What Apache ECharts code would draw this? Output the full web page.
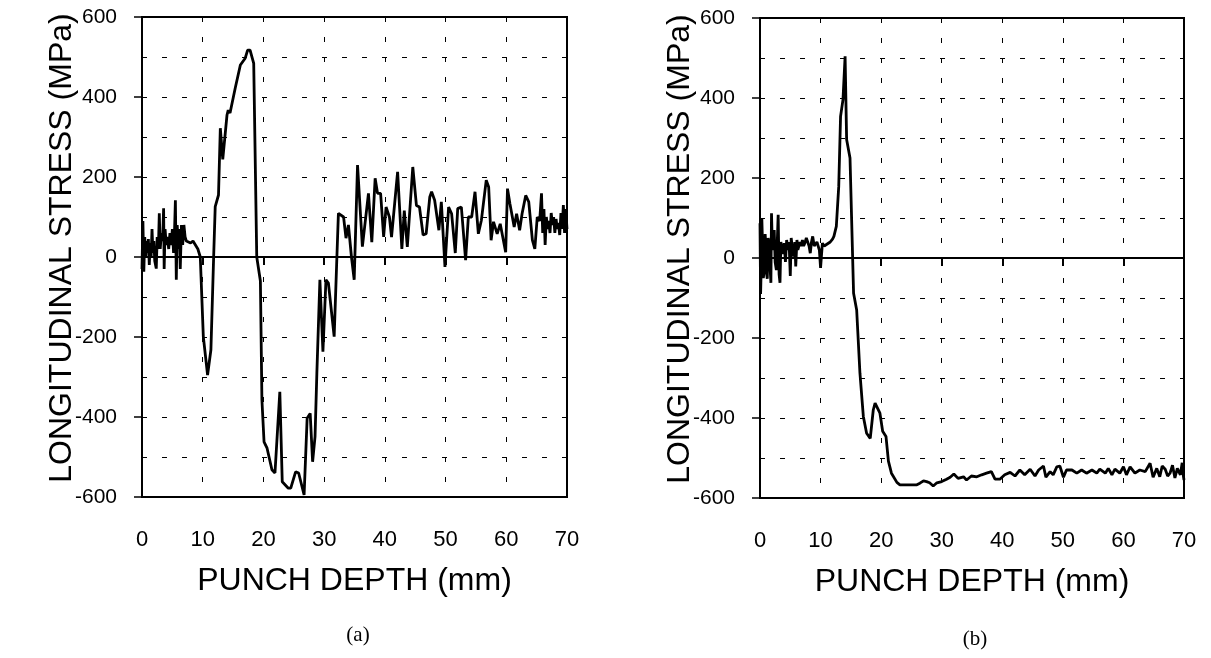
<!DOCTYPE html>
<html>
<head>
<meta charset="utf-8">
<title>Longitudinal stress vs punch depth</title>
<script src="https://cdn.jsdelivr.net/npm/echarts@6/dist/echarts.min.js"></script>
<style>
  html, body { margin: 0; padding: 0; background: #fff; }
  #chart { width: 1211px; height: 658px; }
</style>
</head>
<body>
<div id="chart"></div>
<script>
// ---- data ----
const xTicks = [0, 10, 20, 30, 40, 50, 60, 70];
const yTicks = [-600, -400, -200, 0, 200, 400, 600];

// (a) punch depth (mm) / longitudinal stress (MPa)
const depthA = [
  0, 0.15, 0.3, 0.45, 0.6, 0.75, 0.9, 1.05, 1.2, 1.35, 1.5, 1.65, 1.8, 1.95, 2.1, 2.35, 2.5, 2.7, 2.85, 3.0,
  3.2, 3.4, 3.56, 3.65, 3.8, 4.0, 4.2, 4.4, 4.6, 4.8, 5.0, 5.2, 5.35, 5.5, 5.65, 5.8, 6.0, 6.15, 6.3, 6.5,
  6.7, 6.9, 7.1, 7.3, 7.6, 8.0, 8.4, 8.8, 9.2, 9.6, 10.1, 10.8, 11.35, 11.8, 12.06, 12.6, 12.9, 13.3, 14.0, 14.2,
  14.5, 15.35, 16.2, 17.0, 17.4, 17.8, 18.4, 18.9, 19.5, 19.75, 20.1, 20.6, 21.4, 21.9, 22.1, 22.7, 23.1, 24.1, 24.5, 25.3,
  25.8, 26.7, 27.2, 27.7, 28.1, 28.5, 28.8, 29.3, 29.8, 30.3, 30.7, 31.65, 32.1, 32.35, 33.2, 33.6, 34.0, 34.5, 34.95, 35.5,
  36.3, 37.3, 37.85, 38.4, 38.8, 39.3, 39.8, 40.2, 40.75, 41.1, 42.1, 42.8, 43.2, 43.7, 44.6, 45.2, 45.7, 46.3, 46.8, 47.4,
  47.7, 48.2, 48.9, 49.3, 49.9, 50.5, 51.0, 51.6, 52.0, 52.6, 53.3, 53.75, 54.3, 54.85, 55.4, 55.9, 56.7, 57.1, 57.5, 57.9,
  58.5, 59.0, 59.9, 60.2, 60.6, 61.3, 61.7, 62.2, 62.6, 63.2, 63.7, 64.3, 64.7, 65.1, 65.5, 65.8, 66.0, 66.2, 66.4, 66.6,
  66.8, 67.0, 67.2, 67.4, 67.6, 67.8, 68.0, 68.2, 68.4, 68.6, 68.8, 69.0, 69.2, 69.4, 69.6, 69.8, 70
];
const stressA = [
  -30, 90, -37, 50, 0, 40, 10, 45, -20, 35, 0, 70, 10, 40, -10, -29, 50, 20, 109, 20,
  60, 40, 122, -30, 70, 30, 50, 20, 60, 30, 70, 10, 60, 142, -57, 80, 20, 70, -30, 80,
  30, 80, 50, 40, 45, 35, 40, 30, 20, 0, -199, -295, -232, 0, 126, 155, 322, 244, 355, 367,
  360, 422, 480, 497, 517, 517, 484, 0, -60, -357, -462, -478, -532, -540, -537, -337, -562, -578, -578, -537,
  -540, -595, -403, -391, -512, -449, -291, -57, -237, -57, -65, -199, 0, 109, 100, 47, 80, 0, -57, 230,
  26, 159, 37, 197, 159, 159, 50, 125, 100, 50, 213, 20, 116, 25, 225, 129, 125, 55, 58, 150,
  163, 142, 67, 138, -25, 125, 108, 10, 121, 125, -8, 100, 100, 163, 58, 92, 192, 175, 42, 88,
  58, 83, 12, 171, 133, 75, 108, 67, 108, 154, 138, 42, 20, 100, 90, 159, 60, 120, 30, 100,
  70, 90, 60, 110, 80, 100, 60, 95, 70, 85, 55, 110, 70, 130, 60, 120, 70
];

// (b) punch depth (mm) / longitudinal stress (MPa)
const depthB = [
  0, 0.1, 0.2, 0.3, 0.4, 0.55, 0.7, 0.85, 0.95, 1.1, 1.2, 1.35, 1.5, 1.65, 1.8, 1.9, 2.05, 2.2, 2.35, 2.5,
  2.7, 2.85, 3.0, 3.15, 3.3, 3.45, 3.6, 3.8, 4.0, 4.2, 4.4, 4.6, 4.8, 5.0, 5.15, 5.3, 5.45, 5.6, 5.75, 5.9,
  6.1, 6.25, 6.4, 6.6, 6.8, 7.0, 7.2, 7.4, 7.65, 7.9, 8.1, 8.3, 8.5, 8.7, 8.95, 9.2, 9.4, 9.6, 9.8, 10.0,
  10.3, 10.6, 10.8, 11.1, 11.4, 11.6, 11.8, 12.0, 12.2, 12.6, 13.0, 13.3, 13.7, 14.05, 14.3, 14.86, 15.45, 15.96, 16.5, 17.06,
  17.6, 18.2, 18.7, 19.0, 19.3, 19.8, 20.25, 20.8, 21.2, 21.7, 22.6, 23.1, 24.0, 25.0, 25.9, 26.4, 27.0, 27.5, 28.0, 28.6,
  29.2, 30.0, 30.8, 31.4, 32.0, 32.7, 33.6, 34.1, 34.9, 35.8, 36.6, 37.4, 38.2, 38.8, 39.6, 40.4, 41.3, 42.1, 42.9, 43.7,
  44.6, 45.4, 46.0, 46.8, 47.2, 47.9, 48.4, 49.0, 49.5, 50.1, 50.6, 51.5, 52.3, 53.1, 53.9, 54.8, 55.6, 56.1, 57.0, 57.5,
  58.1, 58.6, 59.4, 60.0, 60.5, 61.1, 61.9, 62.7, 63.6, 64.4, 64.9, 65.5, 66.0, 66.4, 66.9, 67.3, 67.7, 68.1, 68.5, 68.9,
  69.4, 69.7, 69.9, 70
];
const stressB = [
  87, -90, -22, 100, 45, -50, -30, 60, 37, -40, -52, 50, 37, -20, -62, 112, 20, 20, 70, -10,
  -30, 40, 108, -40, -62, 40, 45, 10, 37, -10, 45, 20, 40, -45, 50, 45, 10, 4, 40, -21,
  45, 20, 20, 40, 30, 45, 30, 37, 50, 45, 30, 12, 40, 54, 30, 29, 40, 37, 20, -25,
  37, 30, 29, 35, 37, 40, 45, 48, 54, 79, 179, 354, 396, 504, 296, 250, -88, -130, -288, -396,
  -438, -451, -380, -363, -368, -388, -433, -446, -508, -538, -561, -567, -567, -567, -567, -563, -557, -559, -562, -570,
  -562, -559, -553, -548, -540, -551, -547, -555, -545, -547, -542, -538, -534, -553, -553, -542, -536, -545, -530, -542,
  -528, -545, -530, -520, -548, -534, -542, -522, -520, -548, -530, -530, -538, -530, -538, -530, -538, -528, -538, -526,
  -542, -528, -538, -522, -542, -522, -538, -530, -534, -513, -548, -526, -547, -520, -528, -545, -538, -518, -550, -526,
  -542, -512, -545, -555
];

// ---- shared styles ----
const FONT = "'Liberation Sans', Arial, sans-serif";
const CAPTION_FONT = "'Liberation Serif', 'Times New Roman', serif";
const dashed = { color: '#000', width: 1, type: [5, 15] };

function pairs(xs, ys) {
  return xs.map((x, i) => [x, ys[i]]);
}

function xAxes(gridIndex) {
  return [
    {
      // bottom axis with the labels and the name
      gridIndex: gridIndex,
      type: 'value',
      min: xTicks[0],
      max: xTicks[xTicks.length - 1],
      interval: 10,
      position: 'bottom',
      axisLine: { show: false, onZero: false },
      axisTick: { show: false },
      axisLabel: { color: '#000', fontSize: 22, fontFamily: FONT, margin: 32 },
      splitLine: { show: true, lineStyle: dashed },
      name: 'PUNCH DEPTH (mm)',
      nameLocation: 'middle',
      nameGap: 68,
      nameMoveOverlap: false,
      nameTextStyle: { color: '#000', fontSize: 32, fontFamily: FONT }
    },
    {
      // solid zero line with its ticks
      gridIndex: gridIndex,
      type: 'value',
      min: xTicks[0],
      max: xTicks[xTicks.length - 1],
      interval: 10,
      position: 'top',
      axisLine: { show: true, onZero: true, lineStyle: { color: '#000', width: 2 } },
      axisTick: { show: true, inside: true, length: 8, lineStyle: { color: '#000', width: 2 } },
      axisLabel: { show: false },
      splitLine: { show: false }
    }
  ];
}

function yAxis(gridIndex) {
  return {
    gridIndex: gridIndex,
    type: 'value',
    min: yTicks[0],
    max: yTicks[yTicks.length - 1],
    interval: 200,
    axisLine: { show: false },
    axisTick: { show: true, length: 8, lineStyle: { color: '#000', width: 1.5 } },
    axisLabel: { color: '#000', fontSize: 21, fontFamily: FONT, margin: 25 },
    splitLine: { show: true, lineStyle: dashed },
    minorTick: { show: false, splitNumber: 2 },
    minorSplitLine: { show: true, lineStyle: dashed },
    name: 'LONGITUDINAL STRESS (MPa)',
    nameLocation: 'middle',
    nameRotate: 90,
    nameGap: 64,
    nameMoveOverlap: false,
    nameTextStyle: { color: '#000', fontSize: 32, fontFamily: FONT, padding: [0, 0, 0, 18] }
  };
}

const chart = echarts.init(document.getElementById('chart'), null, { renderer: 'canvas' });

chart.setOption({
  animation: false,
  backgroundColor: '#fff',
  title: [
    {
      text: '(a)', left: 353, top: 620, textAlign: 'center',
      textStyle: { color: '#000', fontSize: 21, fontWeight: 'normal', fontFamily: CAPTION_FONT }
    },
    {
      text: '(b)', left: 970, top: 624, textAlign: 'center',
      textStyle: { color: '#000', fontSize: 21, fontWeight: 'normal', fontFamily: CAPTION_FONT }
    }
  ],
  grid: [
    { left: 142, top: 17, width: 425, height: 480, show: true, borderColor: '#000', borderWidth: 2, containLabel: false, outerBoundsMode: 'none' },
    { left: 760, top: 18, width: 424, height: 480, show: true, borderColor: '#000', borderWidth: 2, containLabel: false, outerBoundsMode: 'none' }
  ],
  xAxis: [].concat(xAxes(0), xAxes(1)),
  yAxis: [yAxis(0), yAxis(1)],
  series: [
    {
      name: '(a)',
      type: 'line',
      xAxisIndex: 0,
      yAxisIndex: 0,
      showSymbol: false,
      lineStyle: { color: '#000', width: 2.8 },
      data: pairs(depthA, stressA)
    },
    {
      name: '(b)',
      type: 'line',
      xAxisIndex: 2,
      yAxisIndex: 1,
      showSymbol: false,
      lineStyle: { color: '#000', width: 2.8 },
      data: pairs(depthB, stressB)
    }
  ]
});
</script>
</body>
</html>
